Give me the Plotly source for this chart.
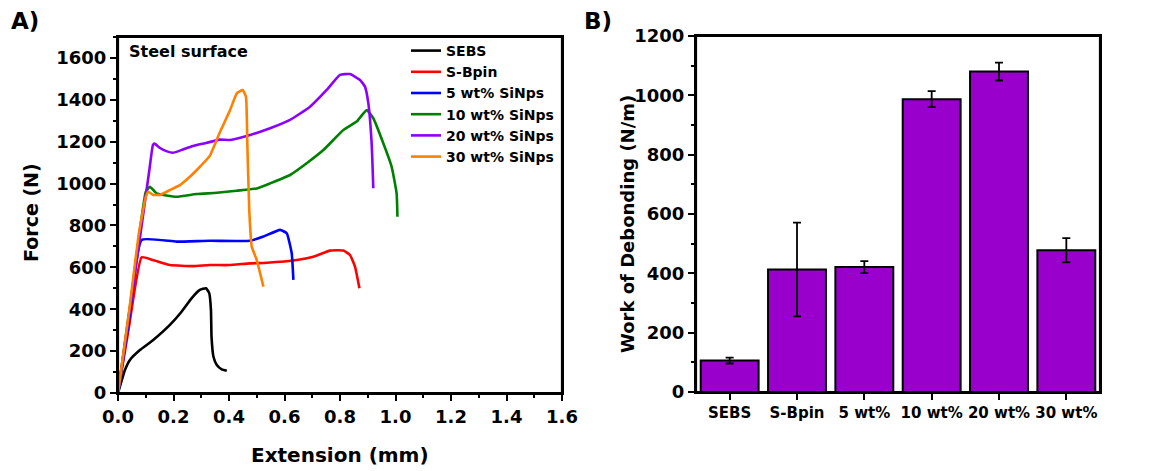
import plotly.graph_objects as go

# ---- Panel A data: Force (N) vs Extension (mm) ----
sebs_x = [0, 0.025, 0.043, 0.079, 0.127, 0.187, 0.229, 0.265, 0.295, 0.317, 0.329, 0.335, 0.337, 0.344, 0.356, 0.374, 0.392]
sebs_y = [0, 110, 158, 205, 253, 325, 388, 452, 492, 500, 476, 396, 269, 173, 134, 113, 106]

sbpin_x = [0, 0.04, 0.085, 0.126, 0.187, 0.27, 0.33, 0.40, 0.476, 0.536, 0.644, 0.704, 0.764, 0.812, 0.836, 0.854, 0.870]
sbpin_y = [0, 320, 648, 635, 611, 606, 611, 611, 619, 622, 635, 651, 680, 680, 659, 603, 500]

wt5_x = [0, 0.04, 0.085, 0.211, 0.331, 0.476, 0.524, 0.584, 0.608, 0.626, 0.632]
wt5_y = [0, 350, 731, 723, 727, 727, 747, 779, 763, 667, 540]

wt10_x = [0, 0.05, 0.1, 0.115, 0.139, 0.211, 0.283, 0.356, 0.427, 0.5, 0.548, 0.62, 0.68, 0.74, 0.812, 0.86, 0.896,
          0.92, 0.956, 0.986, 1.004, 1.007]
wt10_y = [0, 480, 960, 985, 953, 937, 950, 956, 966, 977, 1001, 1041, 1097, 1160, 1256, 1296, 1351,
          1312, 1193, 1081, 953, 842]

wt20_x = [0, 0.06, 0.113, 0.126, 0.132, 0.150, 0.174, 0.198, 0.234, 0.270, 0.318, 0.366, 0.404, 0.476, 0.548, 0.620,
          0.692, 0.752, 0.800, 0.836, 0.872, 0.890, 0.902, 0.914, 0.920]
wt20_y = [0, 560, 1065, 1185, 1191, 1171, 1155, 1147, 1163, 1179, 1194, 1210, 1208, 1232, 1264, 1304,
          1367, 1447, 1519, 1523, 1495, 1463, 1384, 1193, 978]

wt30_x = [0, 0.04, 0.075, 0.1, 0.109, 0.127, 0.151, 0.187, 0.223, 0.259, 0.284, 0.330, 0.366, 0.404, 0.428,
          0.449, 0.461, 0.466, 0.473, 0.482, 0.50, 0.524]
wt30_y = [0, 390, 760, 935, 961, 946, 946, 969, 993, 1033, 1065, 1131, 1242, 1351, 1431,
          1447, 1415, 1192, 874, 699, 635, 508]

series_names = ["SEBS", "S-Bpin", "5 wt% SiNps", "10 wt% SiNps", "20 wt% SiNps", "30 wt% SiNps"]
series_colors = ["#000000", "#FF0000", "#0000FF", "#008000", "#8B00FF", "#FF8000"]

# ---- Panel B data: Work of debonding (N/m) ----
categories = ["SEBS", "S-Bpin", "5 wt%", "10 wt%", "20 wt%", "30 wt%"]
work = [106, 413, 421, 987, 1080, 478]
work_err = [10, 158, 20, 27, 30, 41]

FONT = "DejaVu Sans"

fig = go.Figure()
curves = [(sebs_x, sebs_y), (sbpin_x, sbpin_y), (wt5_x, wt5_y), (wt10_x, wt10_y), (wt20_x, wt20_y), (wt30_x, wt30_y)]
for (xs, ys), name, col in zip(curves, series_names, series_colors):
    fig.add_trace(go.Scatter(x=xs, y=ys, mode="lines", name=name,
                             line=dict(color=col, width=2.6, shape="spline", smoothing=0.4),
                             xaxis="x", yaxis="y"))

fig.add_trace(go.Bar(x=categories, y=work, width=0.86, showlegend=False,
                     marker=dict(color="#9900CC", line=dict(color="black", width=2)),
                     error_y=dict(type="data", array=work_err, color="black", thickness=1.8, width=4),
                     xaxis="x2", yaxis="y2"))

def axis_style(size=18):
    return dict(showline=True, linecolor="black", linewidth=2, mirror=True,
                ticks="outside", ticklen=6, tickwidth=2, tickcolor="black",
                showgrid=False, zeroline=False,
                tickfont=dict(family=FONT, size=size, color="black", weight="bold"))

minor_style = dict(ticks="outside", ticklen=3, tickwidth=2, tickcolor="black")

fig.update_layout(
    width=1151, height=471, autosize=False,
    margin=dict(l=0, r=0, t=0, b=0, pad=0, autoexpand=False),
    paper_bgcolor="white", plot_bgcolor="white",
    font=dict(family=FONT, color="black"),
    showlegend=True,
    legend=dict(x=406/1151, xanchor="left", y=1-35/471, yanchor="top",
                bgcolor="rgba(0,0,0,0)", borderwidth=0,
                font=dict(family=FONT, size=14, color="black", weight="bold"),
                tracegroupgap=0, itemwidth=30),
)
fig.update_layout(
    xaxis=dict(domain=[118/1151, 562/1151], range=[0, 1.6], dtick=0.2, tickformat=".1f",
               minor=dict(dtick=0.1, **minor_style), anchor="y", **axis_style(18)),
    yaxis=dict(domain=[1-393/471, 1-37/471], range=[0, 1700], dtick=200,
               minor=dict(dtick=100, **minor_style), anchor="x", **axis_style(18)),
    xaxis2=dict(domain=[696/1151, 1100/1151], range=[-0.5, 5.5], anchor="y2", **axis_style(15)),
    yaxis2=dict(domain=[1-392/471, 1-36/471], range=[0, 1200], dtick=200,
                minor=dict(dtick=100, **minor_style), anchor="x2", **axis_style(18)),
)

# plot frames (box around each panel)
for xr, yr in [("x domain", "y domain"), ("x2 domain", "y2 domain")]:
    fig.add_shape(type="rect", xref=xr, yref=yr, x0=0, x1=1, y0=0, y1=1,
                  line=dict(color="black", width=2.2), fillcolor="rgba(0,0,0,0)", layer="above")

ann = [
    dict(text="A)", x=9/1151, y=1-21/471, xanchor="left", yanchor="middle", font=dict(size=23)),
    dict(text="B)", x=582/1151, y=1-21/471, xanchor="left", yanchor="middle", font=dict(size=23)),
    dict(text="Steel surface", x=127/1151, y=1-52/471, xanchor="left", yanchor="middle", font=dict(size=16)),
    dict(text="Extension (mm)", x=340/1151, y=1-455/471, xanchor="center", yanchor="middle", font=dict(size=20)),
    dict(text="Force (N)", x=31/1151, y=1-213/471, xanchor="center", yanchor="middle", textangle=-90, font=dict(size=19)),
    dict(text="Work of Debonding (N/m)", x=627/1151, y=1-224/471, xanchor="center", yanchor="middle", textangle=-90, font=dict(size=18)),
]
for a in ann:
    a["font"].update(family=FONT, color="black", weight="bold")
    fig.add_annotation(xref="paper", yref="paper", showarrow=False, **a)

fig.write_html("out.html")
